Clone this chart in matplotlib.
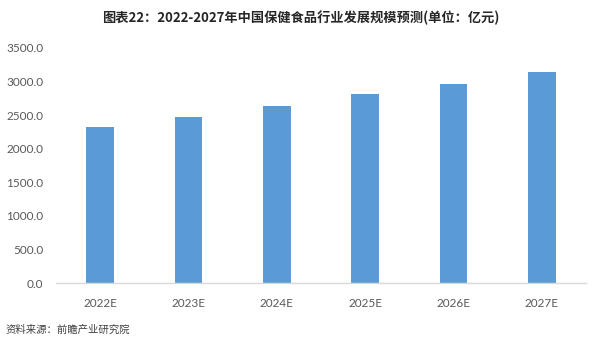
import matplotlib
matplotlib.use("Agg")
import matplotlib.pyplot as plt
from matplotlib.ticker import FormatStrFormatter

plt.rcParams['font.family'] = ['Noto Sans CJK SC', 'DejaVu Sans']

categories = ["2022E", "2023E", "2024E", "2025E", "2026E", "2027E"]
values = [2320, 2475, 2637, 2810, 2968, 3148]
yticks = [0, 500, 1000, 1500, 2000, 2500, 3000, 3500]
title = "图表22：2022-2027年中国保健食品行业发展规模预测(单位：亿元)"
source = "资料来源：前瞻产业研究院"

fig = plt.figure(figsize=(6, 3.46), dpi=100)
ax = fig.add_axes([56/600, 1 - 283/346, 530/600, 235/346])

x = list(range(len(categories)))
ax.bar(x, values, width=0.31, color="#5B9BD5", zorder=2)
ax.set_xlim(-0.5, len(categories) - 0.5)
ax.set_ylim(0, 3500)
ax.set_yticks(yticks)
ax.yaxis.set_major_formatter(FormatStrFormatter("%.1f"))
ax.set_xticks(x)
ax.set_xticklabels(categories)

for s in ["top", "right", "left"]:
    ax.spines[s].set_visible(False)
ax.spines["bottom"].set_color("#D9D9D9")
ax.spines["bottom"].set_linewidth(1.0)
ax.tick_params(axis="both", length=0, colors="#595959")
ax.tick_params(axis="y", pad=9)
ax.tick_params(axis="x", pad=11)
for lab in ax.get_xticklabels() + ax.get_yticklabels():
    lab.set_fontfamily(["Lato", "DejaVu Sans"])
    lab.set_fontsize(8.5)
    lab.set_color("#595959")

fig.text(0.502, 1 - 18/346, title, ha="center", va="center",
         fontsize=9.5, fontweight="bold", color="#262626")
fig.text(6/600, 1 - 330/346, source, ha="left", va="center",
         fontsize=7.5, color="#404040")

fig.savefig("out.png", dpi=100)
